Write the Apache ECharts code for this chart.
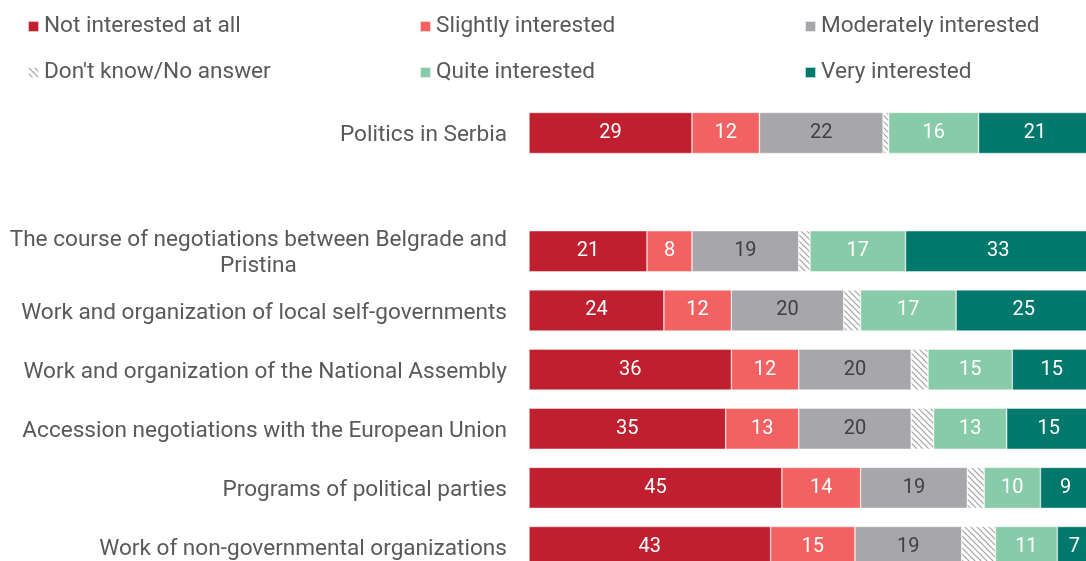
<!DOCTYPE html>
<html>
<head>
<meta charset="utf-8">
<style>
  html, body { margin: 0; padding: 0; background: #fff; }
  #chart { width: 1086px; height: 561px; }
</style>
<script src="https://cdn.jsdelivr.net/npm/echarts@6/dist/echarts.min.js"></script>
</head>
<body>
<div id="chart"></div>
<script>
// Topics (an empty slot separates the first topic from the rest)
const categories = [
  'Politics in Serbia',
  '',
  'The course of negotiations between Belgrade and\nPristina',
  'Work and organization of local self-governments',
  'Work and organization of the National Assembly',
  'Accession negotiations with the European Union',
  'Programs of political parties',
  'Work of non-governmental organizations'
];

// Shares of respondents, percent
const notInterested = [29, null, 21, 24, 36, 35, 45, 43];
const slightly      = [12, null, 8, 12, 12, 13, 14, 15];
const moderately    = [22, null, 19, 20, 20, 20, 19, 19];
const dontKnow      = [1, null, 2, 3, 3, 4, 3, 6];
const quite         = [16, null, 17, 17, 15, 13, 10, 11];
const very          = [21, null, 33, 25, 15, 15, 9, 7];

const seriesNames = [
  'Not interested at all', 'Slightly interested', 'Moderately interested',
  "Don't know/No answer", 'Quite interested', 'Very interested'
];

// Diagonal hatch used for the "Don't know" segments
function hatch() {
  const c = document.createElement('canvas');
  const s = 6;
  c.width = s; c.height = s;
  const g = c.getContext('2d');
  g.fillStyle = '#ffffff';
  g.fillRect(0, 0, s, s);
  g.strokeStyle = '#a3a3a3';
  g.lineWidth = 1.2;
  g.beginPath();
  g.moveTo(-1, -1); g.lineTo(s + 1, s + 1);
  g.moveTo(-1, s - 1); g.lineTo(1, s + 1);
  g.moveTo(s - 1, -1); g.lineTo(s + 1, 1);
  g.stroke();
  return { image: c, repeat: 'repeat' };
}

const colors = ['#C01F2F', '#F26262', '#A7A7AB', hatch(), '#88CBA8', '#00786C'];
const labelColors = ['#ffffff', '#ffffff', '#404040', null, '#ffffff', '#ffffff'];
const values = [notInterested, slightly, moderately, dontKnow, quite, very];

const series = values.map((vals, i) => ({
  name: seriesNames[i],
  type: 'bar',
  stack: 'total',
  barWidth: 41,
  data: vals.map(v => (v === null ? '-' : v)),
  itemStyle: { color: colors[i], borderColor: 'rgba(255,255,255,0.7)', borderWidth: 0.6 },
  label: {
    show: labelColors[i] !== null,
    position: 'inside',
    color: labelColors[i] || '#fff',
    fontSize: 20,
    fontFamily: 'Roboto',
    padding: [5, 0, 0, 0]
  },
  emphasis: { disabled: true }
}));

const legendBase = {
  orient: 'vertical',
  top: 15,
  padding: 0,
  itemWidth: 11,
  itemHeight: 11,
  itemGap: 23,
  icon: 'rect',
  textStyle: { fontSize: 22.6, lineHeight: 22, color: '#595959', fontFamily: 'Roboto', padding: [0, 0, 0, 0] },
  selectedMode: false
};

const chart = echarts.init(document.getElementById('chart'));
chart.setOption({
  animation: false,
  textStyle: { fontFamily: 'Roboto' },
  legend: [
    Object.assign({}, legendBase, { left: 27, data: [seriesNames[0], seriesNames[3]] }),
    Object.assign({}, legendBase, { left: 419, data: [seriesNames[1], seriesNames[4]] }),
    Object.assign({}, legendBase, { left: 804, data: [seriesNames[2], seriesNames[5]] })
  ],
  // plot area runs slightly past the right and bottom edges of the canvas
  grid: { left: 529, width: 562, top: 103.4, height: 473.2, containLabel: false, outerBoundsMode: 'none' },
  xAxis: {
    type: 'value', min: 0, max: 100,
    show: false
  },
  yAxis: {
    type: 'category',
    inverse: true,
    data: categories,
    axisLine: { show: false },
    axisTick: { show: false },
    splitLine: { show: false },
    axisLabel: {
      margin: 22,
      fontSize: 22.6,
      color: '#595959',
      fontFamily: 'Roboto',
      lineHeight: 26,
      padding: [5, 0, 0, 0],
      formatter: v => v.split('\n').map(l => '{c|' + l + '}').join('\n'),
      rich: { c: { align: 'center', fontSize: 22.6, color: '#595959', fontFamily: 'Roboto', lineHeight: 26 } }
    }
  },
  series: series
});
</script>
</body>
</html>
